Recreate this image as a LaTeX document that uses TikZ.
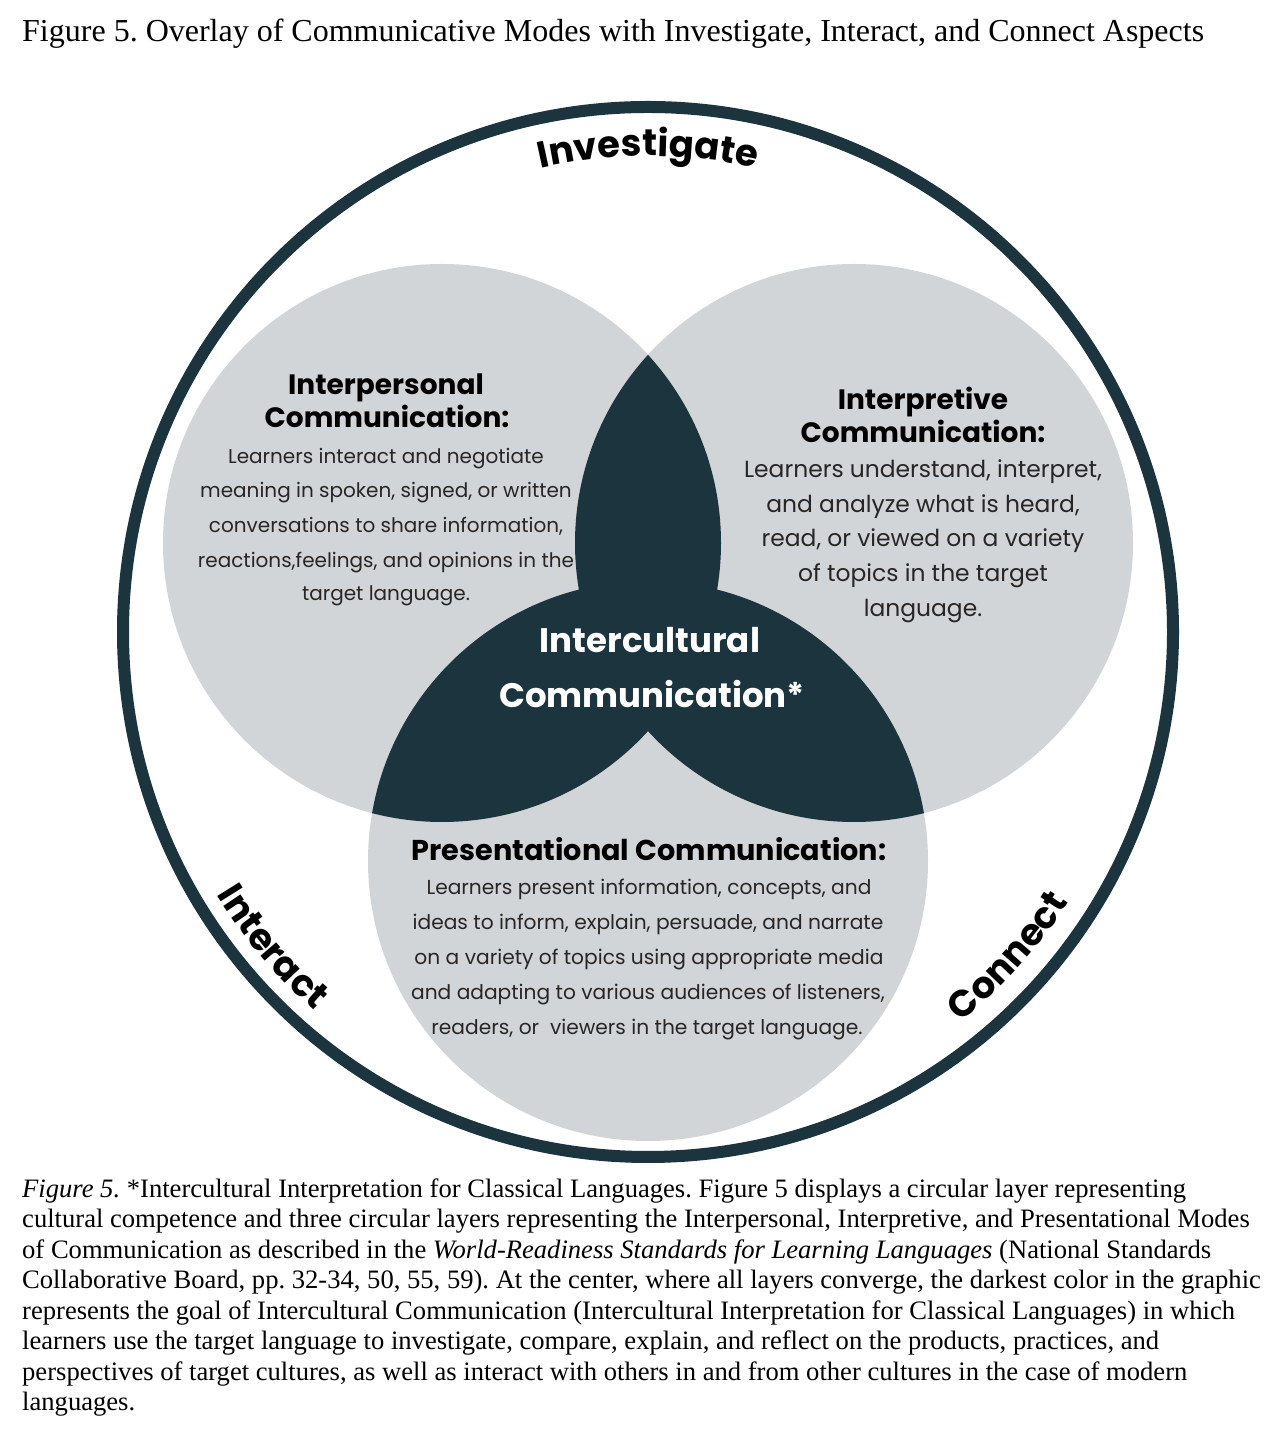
\documentclass[tikz,border=0pt]{standalone}
\usepackage{fontspec}
\setmainfont{Liberation Serif}
\newfontfamily\gothic{Poppins}
\usetikzlibrary{decorations.text}
\definecolor{darkteal}{RGB}{27,52,62}
\definecolor{softgray}{RGB}{209,213,215}
\definecolor{bodyink}{RGB}{38,38,38}
\frenchspacing
\begin{document}
\begin{tikzpicture}[x=1pt,y=1pt,
  ring/.style={draw=darkteal, line width=12pt},
  petal/.style={fill=softgray},
  core/.style={fill=darkteal},
  headA/.style={font=\gothic\bfseries\fontsize{28}{28}\selectfont, text=black, inner sep=0pt, anchor=base},
  headB/.style={font=\gothic\bfseries\fontsize{28.7}{28.7}\selectfont, text=black, inner sep=0pt, anchor=base},
  bodyL/.style={font=\gothic\fontsize{20}{20}\selectfont, text=bodyink, inner sep=0pt, anchor=base},
  bodyR/.style={font=\gothic\fontsize{23.4}{23.4}\selectfont, text=bodyink, inner sep=0pt, anchor=base},
  bodyB/.style={font=\gothic\fontsize{20.2}{20.2}\selectfont, text=bodyink, inner sep=0pt, anchor=base},
  centre/.style={font=\gothic\bfseries\fontsize{34}{34}\selectfont, text=white, inner sep=0pt, anchor=base},
  titletext/.style={font=\fontsize{32}{32}\selectfont, text=black, inner sep=0pt, anchor=base west},
  captext/.style={font=\fontsize{26.6}{26.6}\selectfont, text=black, inner sep=0pt, anchor=base west},
  arcword/.style={decorate, decoration={text along path, text align=center, text={|\gothic\bfseries\fontsize{37}{37}\selectfont|#1}}}
]
\useasboundingbox (0,0) rectangle (1284,1436);
\fill[white] (0,0) rectangle (1284,1436);

\coordinate (O) at (648,804);
\coordinate (L) at (442,893);
\coordinate (R) at (854,893);
\coordinate (B) at (648,575);

% three light circles
\fill[petal] (L) circle[radius=279];
\fill[petal] (R) circle[radius=279];
\fill[petal] (B) circle[radius=280];

% dark pairwise overlaps
\begin{scope}
  \clip (L) circle[radius=279];
  \fill[core] (R) circle[radius=279];
  \fill[core] (B) circle[radius=280];
\end{scope}
\begin{scope}
  \clip (R) circle[radius=279];
  \fill[core] (B) circle[radius=280];
\end{scope}

% outer ring
\draw[ring] (O) circle[radius=525];

% curved labels
\path[arcword=Investigate] (O) ++(120:476) arc[start angle=120, end angle=60, radius=476];
\path[arcword=Interact] (O) ++(180:505) arc[start angle=180, end angle=260, radius=505];
\path[arcword=Connect] (O) ++(278:500) arc[start angle=278, end angle=358, radius=500];

% left circle
\node[headA] (lh1) at (386,1041) {Interpersonal};
\node[headA] (lh2) at (387,1008) {Communication:};
\node[bodyL] (lb1) at (386,972) {Learners interact and negotiate};
\node[bodyL] (lb2) at (386,938) {meaning in spoken, signed, or written};
\node[bodyL] (lb3) at (386,903) {conversations to share information,};
\node[bodyL] (lb4) at (386,868) {reactions,feelings, and opinions in the};
\node[bodyL] (lb5) at (386,835) {target language.};

% right circle
\node[headA] (rh1) at (923,1026) {Interpretive};
\node[headA] (rh2) at (923,993) {Communication:};
\node[bodyR] (rb1) at (923,958) {Learners understand, interpret,};
\node[bodyR] (rb2) at (923,923) {and analyze what is heard,};
\node[bodyR] (rb3) at (923,889) {read, or viewed on a variety};
\node[bodyR] (rb4) at (923,854) {of topics in the target};
\node[bodyR] (rb5) at (923,819) {language.};

% bottom circle
\node[headB] (bh1) at (649,575) {Presentational Communication:};
\node[bodyB] (bb1) at (649,541) {Learners present information, concepts, and};
\node[bodyB] (bb2) at (648,506) {ideas to inform, explain, persuade, and narrate};
\node[bodyB] (bb3) at (649,471) {on a variety of topics using appropriate media};
\node[bodyB] (bb4) at (648,436) {and adapting to various audiences of listeners,};
\node[bodyB] (bb5) at (647,401) {readers, or\ \ viewers in the target language.};

% centre
\node[centre] (c1) at (650,783) {Intercultural};
\node[centre] (c2) at (652,728) {Communication*};

% title
\node[titletext] (title) at (22,1394) {Figure 5. Overlay of Communicative Modes with Investigate, Interact, and Connect Aspects};

% caption
\node[captext] (cap1) at (22,238) {\textit{Figure 5.} *Intercultural Interpretation for Classical Languages. Figure 5 displays a circular layer representing};
\node[captext] (cap2) at (22,208) {cultural competence and three circular layers representing the Interpersonal, Interpretive, and Presentational Modes};
\node[captext] (cap3) at (22,177) {of Communication as described in the \textit{World-Readiness Standards for Learning Languages} (National Standards};
\node[captext] (cap4) at (22,147) {Collaborative Board, pp. 32-34, 50, 55, 59). At the center, where all layers converge, the darkest color in the graphic};
\node[captext] (cap5) at (22,116) {represents the goal of Intercultural Communication (Intercultural Interpretation for Classical Languages) in which};
\node[captext] (cap6) at (22,86) {learners use the target language to investigate, compare, explain, and reflect on the products, practices, and};
\node[captext] (cap7) at (22,55) {perspectives of target cultures, as well as interact with others in and from other cultures in the case of modern};
\node[captext] (cap8) at (22,25) {languages.};
\end{tikzpicture}
\end{document}
